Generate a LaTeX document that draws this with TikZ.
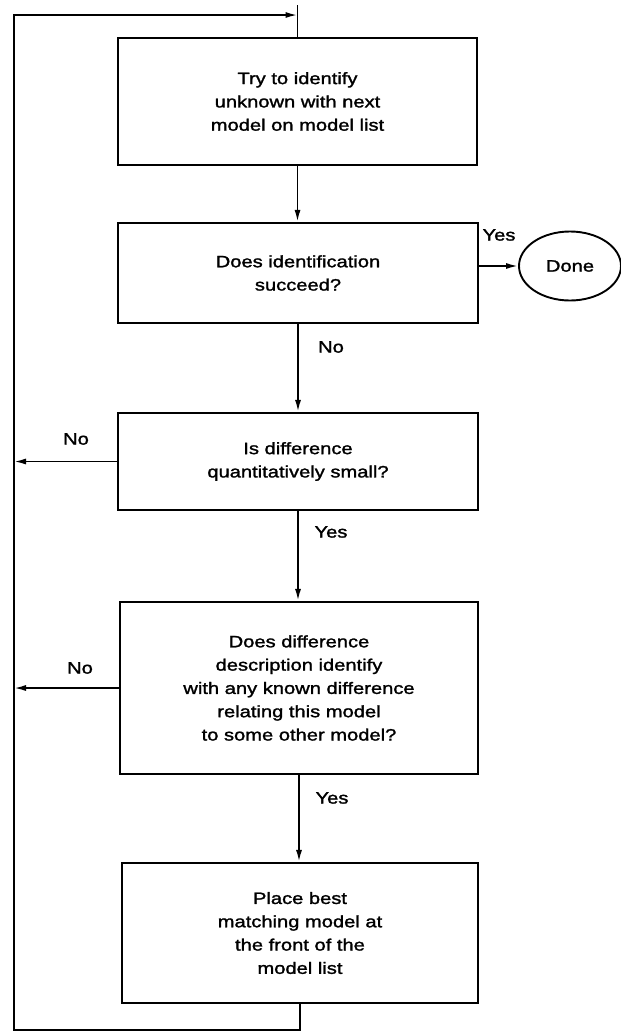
\documentclass[tikz,border=0pt]{standalone}
\usepackage{fontspec}
\setmainfont{Liberation Sans}[FakeStretch=1.22,FakeBold=1.6]
\usetikzlibrary{arrows.meta,shapes.geometric}
\begin{document}
\begin{tikzpicture}[x=1pt,y=-1pt,
  box/.style={draw, line width=2.1pt, align=center, inner sep=0pt,
    font=\fontsize{16.5}{23.3}\selectfont},
  lbl/.style={font=\fontsize{16.5}{20}\selectfont, inner sep=0pt},
  arr/.style={-{Latex[length=12pt,width=6pt]}, line width=1.8pt},
  ln/.style={line width=1.8pt}]
\useasboundingbox (0,0) rectangle (621,1034);

\node[box, minimum width=359pt, minimum height=127pt] (b1) at (297.5,101.5)
  {Try to identify\\unknown with next\\model on model list};
\node[box, minimum width=360pt, minimum height=100pt] (b2) at (298,273)
  {Does identification\\succeed?};
\node[draw, ellipse, line width=1.9pt, minimum width=102pt, minimum height=69pt,
  inner sep=0pt, font=\fontsize{16.5}{20}\selectfont] (done) at (570,266) {Done};
\node[box, minimum width=360pt, minimum height=97pt] (b3) at (298,461.5)
  {Is difference\\quantitatively small?};
\node[box, minimum width=358pt, minimum height=172pt] (b4) at (299,688)
  {Does difference\\description identify\\with any known difference\\relating this model\\to some other model?};
\node[box, minimum width=356pt, minimum height=140pt] (b5) at (300,933)
  {Place best\\matching model at\\the front of the\\model list};

\coordinate (tp) at (297.5,5);
\coordinate (tj) at (297.5,15);
\coordinate (ct) at (14,15);
\coordinate (cb) at (14,1030);

\draw[ln] (tp) -- (b1.north);
\draw[arr] (b5.south) |- (cb) -- (ct) -- (tj);
\draw[arr] (b1.south) -- (b1.south |- b2.north);
\draw[arr] (b2.east |- done.west) -- (done.west);
\draw[arr] (b2.south) -- (b2.south |- b3.north);
\draw[arr] (b3.west) -- (b3.west -| ct);
\draw[arr] (b3.south) -- (b3.south |- b4.north);
\draw[arr] (b4.west) -- (b4.west -| ct);
\draw[arr] (b4.south) -- (b4.south |- b5.north);

\node[lbl] (y1) at (499,235) {Yes};
\node[lbl] (n1) at (331,347) {No};
\node[lbl] (n2) at (76,439) {No};
\node[lbl] (y2) at (331,532) {Yes};
\node[lbl] (n3) at (80,668) {No};
\node[lbl] (y3) at (332,798) {Yes};
\end{tikzpicture}
\end{document}
